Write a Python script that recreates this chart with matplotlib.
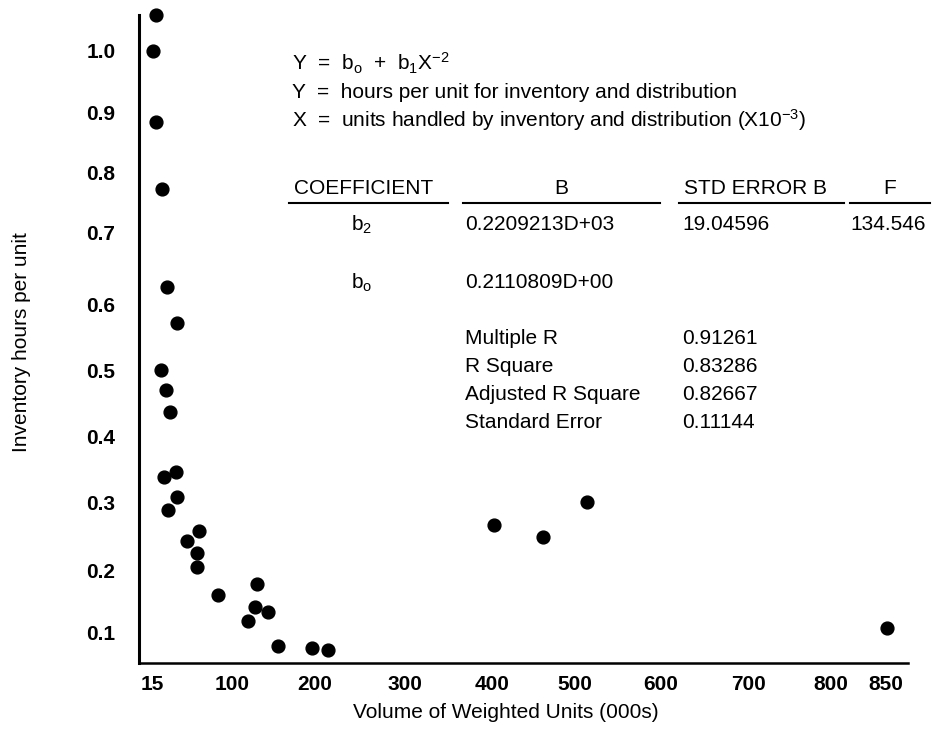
import matplotlib.pyplot as plt
import numpy as np
from matplotlib.lines import Line2D

plt.rcParams["font.family"] = ["Liberation Sans", "DejaVu Sans"]
plt.rcParams["mathtext.fontset"] = "custom"
plt.rcParams["mathtext.rm"] = "Liberation Sans"
plt.rcParams["mathtext.it"] = "Liberation Sans"

# volume of weighted units (000s) and inventory hours per unit
volume = [18.9, 16.4, 19.3, 25.3, 30.6, 41.9, 24.2, 29.9, 34.1, 27.8,
          40.5, 41.9, 31.7, 52.5, 64.9, 62.5, 62.5, 84.8, 129.8, 128.1,
          143.7, 118.9, 155.8, 196.7, 214.8, 401.9, 461.0, 513.4, 851.4]
hours = [1.056, 0.998, 0.884, 0.772, 0.625, 0.573, 0.500, 0.470, 0.438, 0.339,
         0.347, 0.309, 0.290, 0.244, 0.258, 0.225, 0.205, 0.159, 0.177, 0.140,
         0.133, 0.118, 0.078, 0.075, 0.071, 0.267, 0.249, 0.301, 0.107]

x_ticks = [15, 100, 200, 300, 400, 500, 600, 700, 800, 850]
y_ticks = [0.1, 0.2, 0.3, 0.4, 0.5, 0.6, 0.7, 0.8, 0.9, 1.0]

stats = ["Multiple R", "R Square", "Adjusted R Square", "Standard Error"]
stats_val = ["0.91261", "0.83286", "0.82667", "0.11144"]

W, H = 933, 742

# the printed axes are hand drawn, ticks are not evenly spaced -> map with knots
x_knots = [0] + x_ticks + [880]
x_pix = [139, 152, 232, 315, 405, 492, 575, 661, 748, 831, 886, 908]
y_knots = [0.05] + y_ticks + [1.056]
y_pix = [-p for p in [663, 632, 570, 503, 437, 370, 305, 233, 172, 113, 50, 15]]

fig = plt.figure(figsize=(W / 100, H / 100), dpi=100)
ax = fig.add_axes([139 / W, 1 - 663 / H, (908 - 139) / W, (663 - 15) / H])
ax.set_xscale("function", functions=(lambda v: np.interp(v, x_knots, x_pix),
                                     lambda p: np.interp(p, x_pix, x_knots)))
ax.set_yscale("function", functions=(lambda v: np.interp(v, y_knots, y_pix),
                                     lambda p: np.interp(p, y_pix, y_knots)))

ax.scatter(volume, hours, s=85, color="black", clip_on=False, zorder=3)

ax.set_xlim(0, 880)
ax.set_ylim(0.05, 1.056)
ax.set_xticks(x_ticks)
ax.set_xticklabels([str(t) for t in x_ticks])
ax.set_yticks(y_ticks)
ax.set_yticklabels([f"{t:.1f}" for t in y_ticks])
ax.xaxis.set_minor_locator(plt.NullLocator())
ax.yaxis.set_minor_locator(plt.NullLocator())
ax.tick_params(axis="x", length=0, pad=9, labelsize=15)
ax.tick_params(axis="y", length=0, pad=17, labelsize=15)
for lab in ax.get_xticklabels() + ax.get_yticklabels():
    lab.set_fontweight("bold")

for side in ["top", "right"]:
    ax.spines[side].set_visible(False)
ax.spines["left"].set_linewidth(2.2)
ax.spines["bottom"].set_linewidth(1.8)

fig.text(22 / W, 1 - 342 / H, "Inventory hours per unit", rotation=90,
         ha="center", va="center", fontsize=15)
fig.text(506 / W, 1 - 712 / H, "Volume of Weighted Units (000s)",
         ha="center", va="center", fontsize=15)


def put(px, py, s, ha="left"):
    fig.text(px / W, 1 - py / H, s, ha=ha, va="center", fontsize=15)


def rule(x0, x1, py):
    fig.add_artist(Line2D([x0 / W, x1 / W], [1 - py / H] * 2, color="black", lw=1.5))


put(292, 63, r"Y  =  b$_\mathregular{o}$  +  b$_\mathregular{1}$X$^\mathregular{-2}$")
put(292, 92, "Y  =  hours per unit for inventory and distribution")
put(292, 120, r"X  =  units handled by inventory and distribution (X10$^\mathregular{-3}$)")

put(294, 188, "COEFFICIENT")
put(561, 188, "B", ha="center")
put(684, 188, "STD ERROR B")
put(890, 188, "F", ha="center")
rule(289, 448, 203)
rule(463, 660, 203)
rule(679, 844, 203)
rule(850, 930, 203)

put(351, 225, r"b$_\mathregular{2}$")
put(465, 225, "0.2209213D+03")
put(682, 225, "19.04596")
put(850, 225, "134.546")
put(351, 283, r"b$_\mathregular{o}$")
put(465, 283, "0.2110809D+00")

for i, (name, val) in enumerate(zip(stats, stats_val)):
    put(465, 338 + i * 28, name)
    put(682, 338 + i * 28, val)

fig.savefig("out.png", dpi=100)
